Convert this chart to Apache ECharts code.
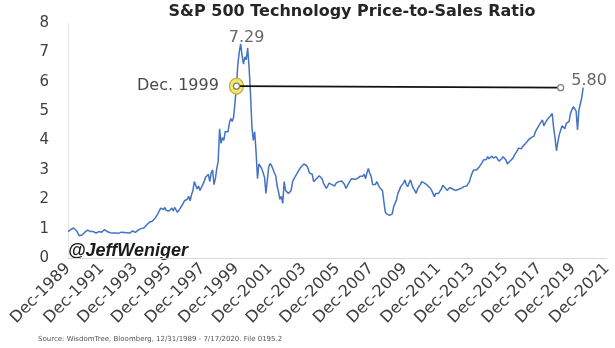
<!DOCTYPE html>
<html>
<head>
<meta charset="utf-8">
<script src="https://cdn.jsdelivr.net/npm/echarts@6/dist/echarts.min.js"></script>
<style>html,body{margin:0;padding:0;background:#fff}#c{width:615px;height:348px}</style>
</head>
<body>
<div id="c"></div>
<script>
// Monthly P/S ratio, Dec 1989 .. Jul 2020 (month index 0 = Dec 1989)
var startYear = 1989;
var ratio = [0.90,
 0.93,0.97,1.0,1.02,1.0,0.93,0.85,0.76,0.73,0.78,0.84,0.88,
 0.92,0.95,0.93,0.9,0.88,0.9,0.87,0.85,0.88,0.9,0.86,0.88,
 0.92,0.97,0.95,0.9,0.88,0.86,0.84,0.85,0.87,0.85,0.83,0.84,
 0.86,0.88,0.9,0.87,0.84,0.86,0.88,0.85,0.9,0.92,0.88,0.87,
 0.9,0.95,0.98,1.0,1.05,1.02,1.08,1.12,1.18,1.22,1.2,1.25,
 1.3,1.35,1.4,1.5,1.6,1.7,1.75,1.65,1.72,1.62,1.68,1.6,
 1.65,1.7,1.6,1.72,1.68,1.55,1.6,1.7,1.78,1.85,1.95,1.9,
 2.0,2.1,1.95,2.15,2.3,2.6,2.55,2.35,2.45,2.3,2.4,2.5,
 2.6,2.75,2.7,2.85,2.6,2.9,3.0,2.5,2.7,3.05,3.3,4.4,
 3.9,4.1,4.0,4.3,4.35,4.3,4.6,4.75,4.65,4.8,5.3,5.85,
 6.6,7.0,7.29,6.9,6.6,6.85,6.75,7.15,6.5,5.6,4.5,4.0,
 4.3,3.6,2.7,3.2,3.15,3.05,3.0,2.75,2.2,2.65,3.1,3.22,
 3.15,3.1,2.9,2.8,2.45,2.25,2.0,2.1,1.86,2.6,2.3,2.25,
 2.2,2.25,2.3,2.6,2.7,2.78,2.8,2.95,3.0,3.1,3.15,3.2,
 3.25,3.15,3.05,2.9,2.95,2.85,2.6,2.55,2.7,2.75,2.8,2.77,
 2.7,2.55,2.5,2.37,2.45,2.55,2.6,2.5,2.55,2.45,2.55,2.6,
 2.6,2.55,2.62,2.65,2.5,2.37,2.45,2.55,2.6,2.7,2.72,2.68,
 2.65,2.7,2.72,2.78,2.8,2.78,2.85,2.7,2.9,3.05,2.88,2.78,
 2.5,2.45,2.5,2.6,2.55,2.4,2.35,2.3,2.25,1.57,1.5,1.47,
 1.45,1.41,1.5,1.75,1.86,1.97,2.2,2.3,2.43,2.45,2.55,2.66,
 2.5,2.43,2.55,2.66,2.5,2.37,2.3,2.2,2.35,2.43,2.5,2.6,
 2.58,2.55,2.5,2.48,2.43,2.38,2.31,2.2,2.09,2.2,2.26,2.2,
 2.2,2.35,2.48,2.42,2.37,2.3,2.31,2.4,2.45,2.35,2.31,2.3,
 2.31,2.33,2.35,2.37,2.4,2.43,2.48,2.45,2.43,2.6,2.77,2.9,
 3.0,2.94,3.0,3.05,3.1,3.16,3.25,3.34,3.28,3.35,3.45,3.38,
 3.34,3.47,3.4,3.34,3.45,3.4,3.3,3.28,3.38,3.45,3.4,3.34,
 3.2,3.16,3.3,3.25,3.4,3.5,3.56,3.65,3.74,3.7,3.72,3.8,
 3.85,3.9,3.95,4.02,4.05,4.1,4.12,4.15,4.3,4.35,4.47,4.55,
 4.58,4.7,4.5,4.6,4.55,4.75,4.7,4.85,4.92,4.41,4.08,3.65,
 3.95,4.2,4.35,4.5,4.53,4.4,4.58,4.55,4.65,4.92,5.05,5.15,
 5.2,5.0,4.36,5.04,5.25,5.45,5.80];
var xTickYears = [1989,1991,1993,1995,1997,1999,2001,2003,2005,2007,2009,2011,2013,2015,2017,2019,2021];
var yTicks = [0,1,2,3,4,5,6,7,8];
// annotations: [monthIndex, value]
var peakPoint = [123, 7.29];
var dec1999Point = [120, 5.85];
var refLineEnd = [351, 5.80];
var lastPoint = [367, 5.80];

var chart = echarts.init(document.getElementById('c'));
var lbl = {fontFamily:'DejaVu Sans', fontSize:16, color:'#404040'};
chart.setOption({
  animation:false,
  grid:{left:68,right:8,top:23,bottom:90},
  xAxis:{type:'value',min:0,max:(xTickYears[xTickYears.length-1]-startYear)*12,interval:24,
    axisLine:{show:true,lineStyle:{color:'#d9d9d9',width:1}},
    axisTick:{show:false},splitLine:{show:false},
    axisLabel:{rotate:45,margin:8,fontFamily:'DejaVu Sans',fontSize:16,color:'#404040',
      formatter:function(v){return 'Dec-'+(startYear+v/12);}}},
  yAxis:{type:'value',min:yTicks[0],max:yTicks[yTicks.length-1],interval:1,
    axisLine:{show:true,lineStyle:{color:'#e6e6e6',width:1}},
    axisTick:{show:false},splitLine:{show:false},
    axisLabel:{margin:19,fontFamily:'DejaVu Sans',fontSize:15,color:'#404040'}},
  series:[
    {type:'line',data:ratio.map(function(v,i){return [i,v];}),showSymbol:false,
     lineStyle:{color:'#4472C4',width:1.5},z:2},
    {type:'scatter',data:[dec1999Point],symbolSize:[14,16],
     itemStyle:{color:'#f2e85c',borderColor:'#b7ad45',borderWidth:1.2,opacity:0.95},z:3,
     label:{show:true,position:'left',distance:10,formatter:'Dec. 1999',
       fontFamily:lbl.fontFamily,fontSize:lbl.fontSize,color:lbl.color}},
    {type:'line',data:[dec1999Point,refLineEnd],symbol:'circle',symbolSize:6,showSymbol:true,
     itemStyle:{color:'#fff',borderColor:'#808080',borderWidth:1.3},
     lineStyle:{color:'#111',width:1.6},z:5},
    {type:'scatter',data:[peakPoint],symbolSize:0,
     label:{show:true,position:'top',distance:0,offset:[6,2],formatter:function(p){return p.value[1].toFixed(2);},
       fontFamily:lbl.fontFamily,fontSize:lbl.fontSize,color:lbl.color}},
    {type:'scatter',data:[lastPoint],symbolSize:0,
     label:{show:true,position:'top',distance:0,offset:[6,1],formatter:function(p){return p.value[1].toFixed(2);},
       fontFamily:lbl.fontFamily,fontSize:lbl.fontSize,color:lbl.color}}
  ],
  graphic:[
    {type:'text',x:352,y:4,style:{text:'S&P 500 Technology Price-to-Sales Ratio',align:'center',
      font:'bold 16px "DejaVu Sans"',fill:'#262626'}},
    {type:'text',left:68,top:242,style:{text:'@JeffWeniger',font:'italic bold 18px "Liberation Sans"',fill:'#1a1a1a'}},
    {type:'text',left:38,top:336,style:{text:'Source: WisdomTree, Bloomberg, 12/31/1989 - 7/17/2020. File 0195.2',
      font:'7px "DejaVu Sans"',fill:'#555'}}
  ]
});
</script>
</body>
</html>
